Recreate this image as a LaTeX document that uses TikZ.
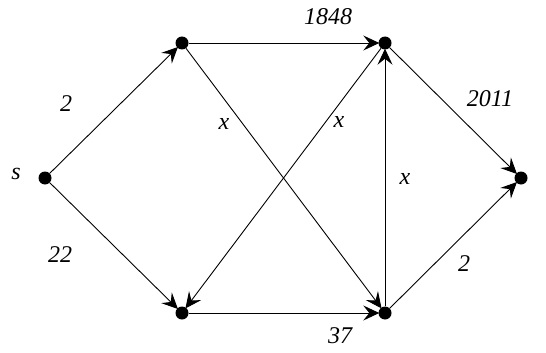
\documentclass[tikz,border=0pt]{standalone}
\usepackage{fontspec}
\setmainfont{Liberation Serif}
\usetikzlibrary{arrows.meta}

\begin{document}
\begin{tikzpicture}[
    x=1pt, y=-1pt,
    every node/.style={font=\fontsize{24}{28}\selectfont\itshape},
    vertex/.style={circle, fill=black, inner sep=0pt, minimum size=13pt},
    arc/.style={-{Stealth[length=16pt, width=15pt, inset=6pt]}, line width=0.9pt, shorten >=-1pt}
]
    \useasboundingbox (0,0) rectangle (546,353);

    % --- vertices ---
    \node[vertex] (s)  at (45,178)  {};
    \node[vertex] (tl) at (182,43)  {};
    \node[vertex] (tr) at (385,43)  {};
    \node[vertex] (bl) at (182,313) {};
    \node[vertex] (br) at (385,313) {};
    \node[vertex] (t)  at (521,178) {};

    % --- edges ---
    \draw[arc] (s) -- (tl);
    \draw[arc] (s) -- (bl);
    \draw[arc] (tl) -- (tr);
    \draw[arc] (bl) -- (br);
    \draw[arc] (tl) -- (br);
    \draw[arc] (tr) -- (bl);
    \draw[arc] (br) -- (tr);
    \draw[arc] (tr) -- (t);
    \draw[arc] (br) -- (t);

    % --- labels ---
    \node (ls)    at (16,174)  {s};
    \node (l2a)   at (66,104)  {2};
    \node (l22)   at (60,255)  {22};
    \node (l1848) at (328,17)  {1848};
    \node (l37)   at (340,336) {37};
    \node (lx1)   at (224,124) {x};
    \node (lx2)   at (339,122) {x};
    \node (lx3)   at (405,179) {x};
    \node (l2011) at (490,99)  {2011};
    \node (l2b)   at (464,264) {2};
\end{tikzpicture}
\end{document}
